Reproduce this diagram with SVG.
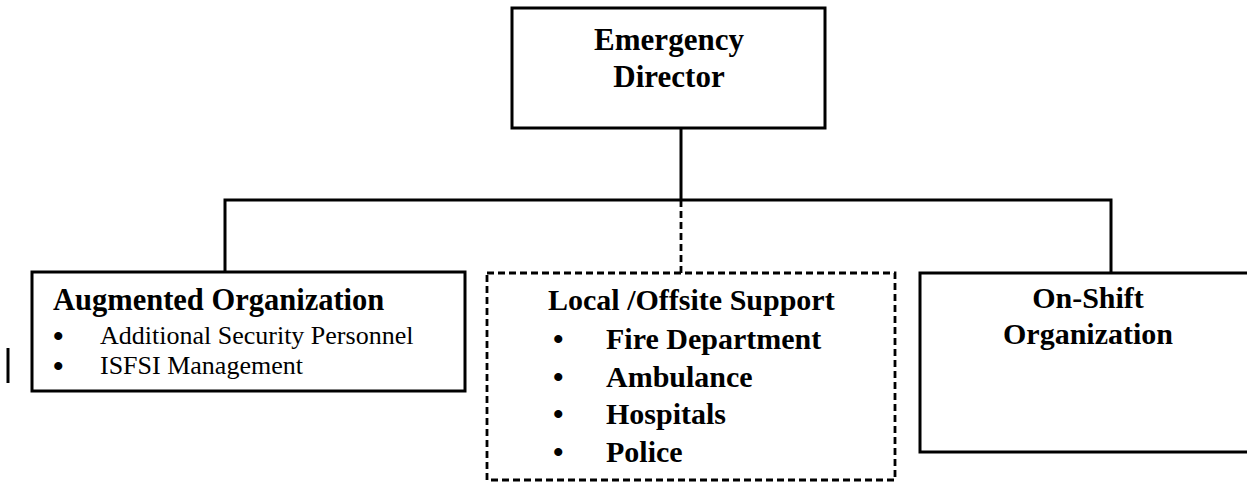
<svg xmlns="http://www.w3.org/2000/svg" width="1247" height="487" viewBox="0 0 1247 487">
<style>
  .box { fill: #ffffff; stroke: #000000; stroke-width: 3; }
  .dbox { fill: #ffffff; stroke: #000000; stroke-width: 2.8; stroke-dasharray: 7 4; }
  .line { fill: none; stroke: #000000; stroke-width: 3; }
  .dline { fill: none; stroke: #000000; stroke-width: 2.8; stroke-dasharray: 7 4; }
  .b { font-family: "Liberation Serif", "Times New Roman", serif; font-weight: bold; font-size: 30px; fill: #000000; }
  .r { font-family: "Liberation Serif", "Times New Roman", serif; font-weight: normal; font-size: 26px; fill: #000000; }
  .c { text-anchor: middle; }
</style>
<rect width="1247" height="487" fill="#ffffff"/>
<g id="connectors">
  <path class="line" d="M681 128 V200"/>
  <path class="line" d="M225 272 V200 H1111 V273"/>
  <path class="dline" d="M681 200 V273"/>
</g>
<g id="emergency-director">
  <rect class="box" x="512" y="8" width="313" height="120"/>
  <text class="b c" x="669" y="50" style="font-size:31px">Emergency</text>
  <text class="b c" x="669" y="87" style="font-size:31px">Director</text>
</g>
<g id="augmented-organization">
  <rect class="box" x="32" y="272" width="433" height="119"/>
  <text class="b" x="53" y="310" style="font-size:30.5px">Augmented Organization</text>
  <text class="b" x="53" y="346">•</text>
  <text class="r" x="100" y="344">Additional Security Personnel</text>
  <text class="b" x="53" y="376">•</text>
  <text class="r" x="100" y="374">ISFSI Management</text>
</g>
<g id="local-offsite-support">
  <rect class="dbox" x="487" y="273" width="408" height="207"/>
  <text class="b" x="548" y="310">Local /Offsite Support</text>
  <text class="b" x="553" y="349">•</text>
  <text class="b" x="606" y="349">Fire Department</text>
  <text class="b" x="553" y="387">•</text>
  <text class="b" x="606" y="387">Ambulance</text>
  <text class="b" x="553" y="424">•</text>
  <text class="b" x="606" y="424">Hospitals</text>
  <text class="b" x="553" y="462">•</text>
  <text class="b" x="606" y="462">Police</text>
</g>
<g id="on-shift-organization">
  <rect class="box" x="920" y="273" width="340" height="179"/>
  <text class="b c" x="1088" y="308">On-Shift</text>
  <text class="b c" x="1088" y="344">Organization</text>
</g>
<line x1="8" y1="348" x2="8" y2="383" stroke="#000000" stroke-width="3"/>
</svg>
